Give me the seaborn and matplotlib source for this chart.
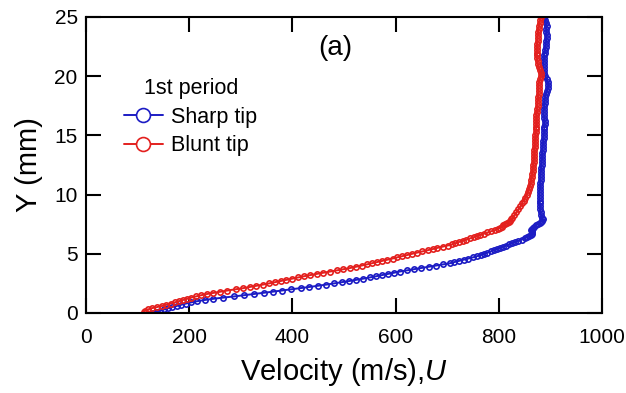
import matplotlib
matplotlib.use("Agg")
import matplotlib.pyplot as plt
import seaborn as sns
import pandas as pd

# ---------------- data ----------------
sharp_y = [0.0, 0.1, 0.2, 0.3, 0.4, 0.5, 0.6, 0.7, 0.8, 0.9,
           1.0, 1.1, 1.2, 1.3, 1.4, 1.5, 1.6, 1.7, 1.8, 1.9,
           2.0, 2.1, 2.2, 2.3, 2.4, 2.5, 2.6, 2.7, 2.8, 2.9,
           3.0, 3.1, 3.2, 3.3, 3.4, 3.5, 3.6, 3.7, 3.8, 3.9,
           4.0, 4.1, 4.2, 4.3, 4.4, 4.5, 4.6, 4.7, 4.8, 4.9,
           5.0, 5.1, 5.2, 5.3, 5.4, 5.5, 5.6, 5.7, 5.8, 5.9,
           6.0, 6.1, 6.2, 6.3, 6.4, 6.5, 6.6, 6.7, 6.8, 6.9,
           7.0, 7.1, 7.2, 7.3, 7.4, 7.5, 7.6, 7.7, 7.8, 7.9,
           8.0, 8.25, 8.5, 8.75, 9.0, 9.25, 9.5, 9.75, 10.0, 10.25,
           10.5, 10.75, 11.0, 11.25, 11.5, 11.75, 12.0, 12.25, 12.5, 12.75,
           13.0, 13.25, 13.5, 13.75, 14.0, 14.25, 14.5, 14.75, 15.0, 15.25,
           15.5, 15.75, 16.0, 16.25, 16.5, 16.75, 17.0, 17.25, 17.5, 17.75,
           18.0, 18.25, 18.5, 18.75, 19.0, 19.25, 19.5, 19.75, 20.0, 20.25,
           20.5, 20.75, 21.0, 21.25, 21.5, 21.75, 22.0, 22.25, 22.5, 22.75,
           23.0, 23.25, 23.5, 23.75, 24.0, 24.25, 24.5, 24.75, 25.0]
sharp_u = [130, 137, 144, 151, 159, 167, 176, 185, 194, 204,
           216, 230, 247, 266, 287, 306, 325, 344, 362, 380,
           398, 416, 433, 450, 466, 481, 496, 510, 524, 537,
           550, 562, 574, 586, 597, 608, 622, 636, 650, 664,
           678, 692, 705, 714, 723, 732, 741, 750, 758, 765,
           771, 778, 784, 790, 796, 802, 808, 814, 820, 826,
           832, 838, 844, 850, 855, 859, 862, 864, 864, 864,
           863, 864, 866, 868, 872, 876, 879, 882, 884, 885,
           884, 882, 881, 880, 880, 880, 879, 879, 879, 879,
           880, 880, 880, 881, 881, 881, 882, 882, 883, 883,
           884, 884, 884, 885, 885, 886, 886, 887, 887, 888,
           888, 888, 889, 889, 888, 887, 887, 888, 888, 889,
           889, 890, 891, 893, 895, 896, 895, 893, 890, 888,
           887, 887, 887, 887, 888, 888, 889, 890, 891, 891,
           892, 893, 893, 892, 892, 893, 892, 890, 888]

blunt_y = [0.1, 0.2, 0.3, 0.4, 0.5, 0.6, 0.7, 0.8, 0.9,
           1.0, 1.1, 1.2, 1.3, 1.4, 1.5, 1.6, 1.7, 1.8, 1.9,
           2.0, 2.1, 2.2, 2.3, 2.4, 2.5, 2.6, 2.7, 2.8, 2.9,
           3.0, 3.1, 3.2, 3.3, 3.4, 3.5, 3.6, 3.7, 3.8, 3.9,
           4.0, 4.1, 4.2, 4.3, 4.4, 4.5, 4.6, 4.7, 4.8, 4.9,
           5.0, 5.1, 5.2, 5.3, 5.4, 5.5, 5.6, 5.7, 5.8, 5.9,
           6.0, 6.1, 6.2, 6.3, 6.4, 6.5, 6.6, 6.7, 6.8, 6.9,
           7.0, 7.1, 7.2, 7.3, 7.4, 7.5, 7.6, 7.7, 7.8, 7.9,
           8.0, 8.25, 8.5, 8.75, 9.0, 9.25, 9.5, 9.75, 10.0, 10.25,
           10.5, 10.75, 11.0, 11.25, 11.5, 11.75, 12.0, 12.25, 12.5, 12.75,
           13.0, 13.25, 13.5, 13.75, 14.0, 14.25, 14.5, 14.75, 15.0, 15.25,
           15.5, 15.75, 16.0, 16.25, 16.5, 16.75, 17.0, 17.25, 17.5, 17.75,
           18.0, 18.25, 18.5, 18.75, 19.0, 19.25, 19.5, 19.75, 20.0, 20.25,
           20.5, 20.75, 21.0, 21.25, 21.5, 21.75, 22.0, 22.25, 22.5, 22.75,
           23.0, 23.25, 23.5, 23.75, 24.0, 24.25, 24.5, 24.75, 25.0]
blunt_u = [112, 115, 120, 127, 138, 148, 156, 164, 172,
           180, 188, 196, 204, 213, 223, 234, 247, 260, 274,
           290, 305, 318, 330, 343, 355, 366, 377, 388, 400,
           411, 422, 434, 447, 460, 473, 486, 499, 512, 523,
           534, 544, 554, 564, 574, 584, 594, 603, 613, 623,
           632, 642, 652, 662, 672, 681, 691, 701, 709, 716,
           723, 730, 737, 744, 751, 757, 764, 771, 778, 785,
           792, 798, 802, 806, 809, 812, 816, 819, 822, 824,
           826, 830, 834, 838, 842, 845, 848, 851, 854, 856,
           858, 860, 862, 863, 864, 865, 866, 866, 867, 868,
           868, 869, 869, 869, 870, 870, 870, 871, 871, 872,
           872, 873, 873, 873, 873, 873, 874, 874, 875, 875,
           876, 876, 877, 877, 877, 877, 878, 880, 882, 881,
           879, 877, 876, 875, 874, 874, 874, 874, 874, 874,
           875, 875, 876, 876, 877, 878, 879, 880, 881]

series_names = ["Sharp tip", "Blunt tip"]
series_colors = ["#1c1cc4", "#e3201e"]
legend_title = "1st period"
panel_label = "(a)"
x_ticks = [0, 200, 400, 600, 800, 1000]
y_ticks = [0, 5, 10, 15, 20, 25]

# ---------------- style ----------------
sns.set_theme(style="ticks")
plt.rcParams["font.family"] = ["Liberation Sans", "DejaVu Sans"]
plt.rcParams["mathtext.fontset"] = "custom"
plt.rcParams["mathtext.rm"] = "Liberation Sans"
plt.rcParams["mathtext.it"] = "Liberation Sans:italic"
plt.rcParams["text.color"] = "black"
plt.rcParams["axes.labelcolor"] = "black"

fig = plt.figure(figsize=(6.26, 3.93), dpi=100)
ax = fig.add_axes([86 / 626, 1 - 313 / 393, 516 / 626, 296 / 393])

frames = [
    pd.DataFrame({"U": sharp_u, "Y": sharp_y, "case": series_names[0]}),
    pd.DataFrame({"U": blunt_u, "Y": blunt_y, "case": series_names[1]}),
]
for df, name, col in zip(frames, series_names, series_colors):
    sns.lineplot(data=df, x="U", y="Y", sort=False, estimator=None, ax=ax,
                 color=col, lw=1.4, marker="o", markersize=3.8,
                 markerfacecolor="none", markeredgecolor=col,
                 markeredgewidth=1.2, label=name)

ax.set_xlim(0, 1000)
ax.set_ylim(0, 25)
ax.set_xticks(x_ticks)
ax.set_yticks(y_ticks)
for s in ax.spines.values():
    s.set_visible(True)
    s.set_linewidth(1.5)
    s.set_color("black")
ax.tick_params(direction="in", length=11, width=1.5, top=True, right=True,
               labelsize=15, colors="black")
ax.tick_params(axis="x", pad=11)
ax.tick_params(axis="y", pad=6)
ax.set_xlabel("Velocity (m/s),$\\it{U}$", fontsize=21, labelpad=6)
ax.set_ylabel("Y (mm)", fontsize=21, labelpad=8)

ax.text(0.4826, 0.895, panel_label, transform=ax.transAxes, fontsize=20,
        ha="center", va="center")

leg = ax.legend(title=legend_title, frameon=False, loc="upper left",
                bbox_to_anchor=(109 / 626, 1 - 63 / 393),
                bbox_transform=fig.transFigure, fontsize=15.5,
                title_fontsize=15.5, handlelength=1.8, handletextpad=0.4,
                labelspacing=0.35, borderpad=0.2)
for h in leg.legend_handles:
    h.set_markersize(10)
    h.set_markeredgewidth(1.2)
    h.set_markerfacecolor("white")

fig.savefig("out.png", dpi=100)
